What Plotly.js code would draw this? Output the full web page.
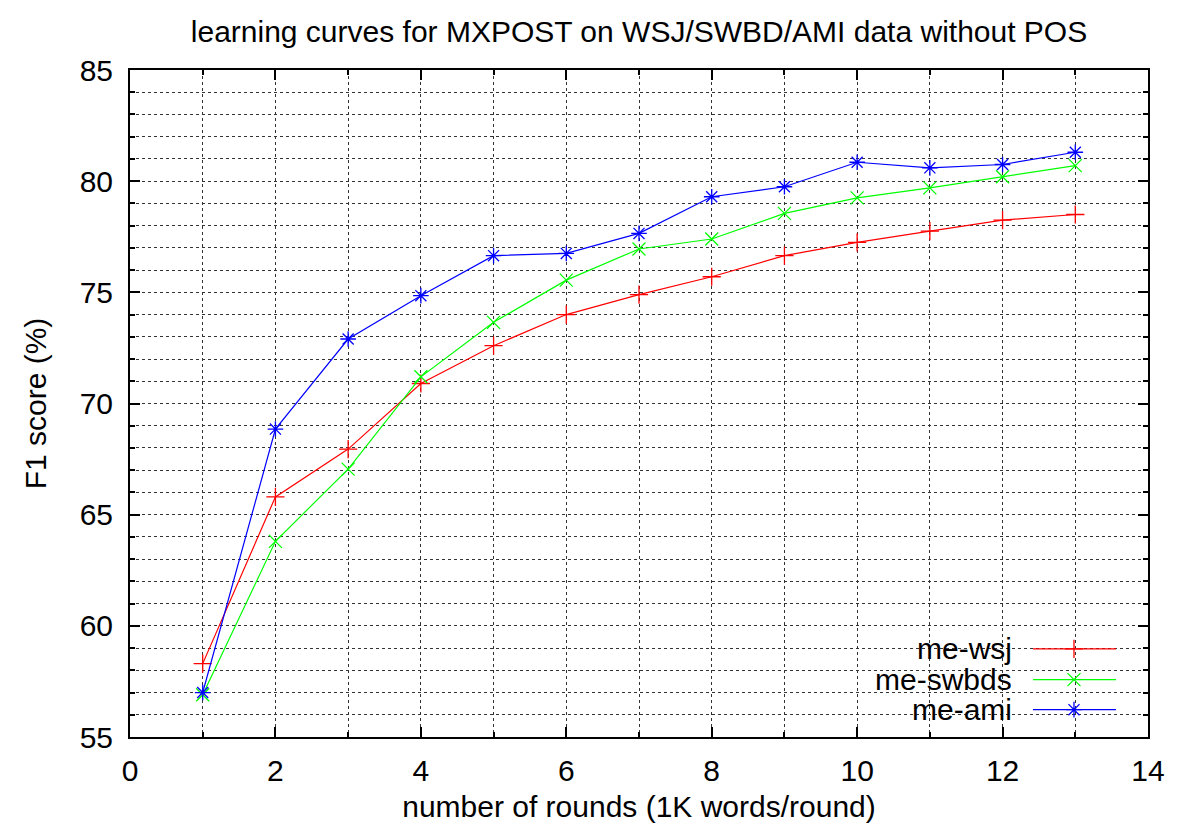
<!DOCTYPE html>
<html>
<head>
<meta charset="utf-8">
<script src="https://cdn.plot.ly/plotly-3.0.1.min.js"></script>
<style>
  html, body { margin: 0; padding: 0; background: #ffffff; }
  #chart { width: 1184px; height: 832px; }
</style>
</head>
<body>
<div id="chart"></div>
<script>
// Rounds of 1K words each
const rounds = [1, 2, 3, 4, 5, 6, 7, 8, 9, 10, 11, 12, 13];

// F1 scores (%) per training set
const meWsj   = [58.3, 65.8, 67.95, 70.9, 72.6, 74.0, 74.9, 75.7, 76.65, 77.25, 77.75, 78.25, 78.5];
const meSwbds = [56.9, 63.8, 67.05, 71.2, 73.65, 75.55, 76.95, 77.4, 78.55, 79.25, 79.7, 80.2, 80.7];
const meAmi   = [57.0, 68.85, 72.9, 74.85, 76.65, 76.75, 77.65, 79.3, 79.75, 80.85, 80.6, 80.75, 81.3];

const seriesNames   = ['me-wsj', 'me-swbds', 'me-ami'];
const seriesColors  = ['#ff0000', '#00ff00', '#0000ff'];
const seriesSymbols = ['cross-thin-open', 'x-thin-open', 'asterisk-open'];
const seriesValues  = [meWsj, meSwbds, meAmi];

const FONT = 'Liberation Sans, Arial, Helvetica, sans-serif';
const FS = 30;

const traces = seriesValues.map((vals, i) => ({
  x: rounds,
  y: vals,
  type: 'scatter',
  mode: 'lines+markers',
  name: seriesNames[i],
  showlegend: false,
  line: { color: seriesColors[i], width: 1.2 },
  marker: {
    symbol: seriesSymbols[i],
    size: 13,
    color: seriesColors[i],
    line: { color: seriesColors[i], width: 1.3 }
  },
  hoverinfo: 'x+y+name'
}));

// Key box (text right-aligned, sample line with point to its right),
// drawn on an overlay axis pair spanning the plot area as [0,1].
const keyRowsY = [0.132, 0.086, 0.041];
seriesNames.forEach((name, i) => {
  traces.push({
    x: [0.887, 0.9686], y: [keyRowsY[i], keyRowsY[i]],
    xaxis: 'x2', yaxis: 'y2',
    type: 'scatter', mode: 'lines', showlegend: false, hoverinfo: 'skip',
    line: { color: seriesColors[i], width: 1.2 }
  });
  traces.push({
    x: [0.9273], y: [keyRowsY[i]],
    xaxis: 'x2', yaxis: 'y2',
    type: 'scatter', mode: 'markers', showlegend: false, hoverinfo: 'skip',
    marker: {
      symbol: seriesSymbols[i], size: 13, color: seriesColors[i],
      line: { color: seriesColors[i], width: 1.3 }
    }
  });
});

const keyAnnotations = seriesNames.map((name, i) => ({
  xref: 'x2', yref: 'y2',
  x: 0.868, y: keyRowsY[i],
  xanchor: 'right', yanchor: 'middle',
  text: name, showarrow: false,
  font: { family: FONT, size: FS, color: '#000000' }
}));

const gridStyle = { gridcolor: '#333333', gridwidth: 1, griddash: 'dot' };

const layout = {
  width: 1184,
  height: 832,
  paper_bgcolor: '#ffffff',
  plot_bgcolor: '#ffffff',
  margin: { l: 130, r: 36, t: 70, b: 95 },
  font: { family: FONT, size: FS, color: '#000000' },
  title: {
    text: 'learning curves for MXPOST on WSJ/SWBD/AMI data without POS',
    font: { family: FONT, size: FS, color: '#000000' },
    x: 0.5, xref: 'paper', xanchor: 'center',
    y: 0.962, yref: 'container', yanchor: 'middle'
  },
  xaxis: {
    range: [0, 14],
    dtick: 2, tick0: 0,
    ticks: 'inside', ticklen: 10, tickwidth: 1.5, tickcolor: '#000000',
    showline: true, linecolor: '#000000', linewidth: 2, mirror: 'ticks',
    showgrid: true, ...gridStyle,
    zeroline: false,
    minor: { dtick: 1, tick0: 0, ticks: 'inside', ticklen: 5, tickcolor: '#000000', showgrid: true, ...gridStyle },
    ticklabelstandoff: 6,
    tickfont: { family: FONT, size: FS, color: '#000000' },
    title: { text: 'number of rounds (1K words/round)', standoff: 10,
             font: { family: FONT, size: FS, color: '#000000' } }
  },
  yaxis: {
    range: [55, 85],
    dtick: 5, tick0: 55,
    ticks: 'inside', ticklen: 10, tickwidth: 1.5, tickcolor: '#000000',
    showline: true, linecolor: '#000000', linewidth: 2, mirror: 'ticks',
    showgrid: true, ...gridStyle,
    zeroline: false,
    minor: { dtick: 1, tick0: 55, ticks: 'inside', ticklen: 5, tickcolor: '#000000', showgrid: true, ...gridStyle },
    ticklabelstandoff: 9,
    tickfont: { family: FONT, size: FS, color: '#000000' },
    title: { text: 'F1 score (%)', standoff: 24,
             font: { family: FONT, size: FS, color: '#000000' } }
  },
  xaxis2: { overlaying: 'x', range: [0, 1], visible: false, fixedrange: true },
  yaxis2: { overlaying: 'y', range: [0, 1], visible: false, fixedrange: true },
  annotations: keyAnnotations,
  showlegend: false
};

Plotly.newPlot('chart', traces, layout, { displayModeBar: false, responsive: false });
</script>
</body>
</html>
